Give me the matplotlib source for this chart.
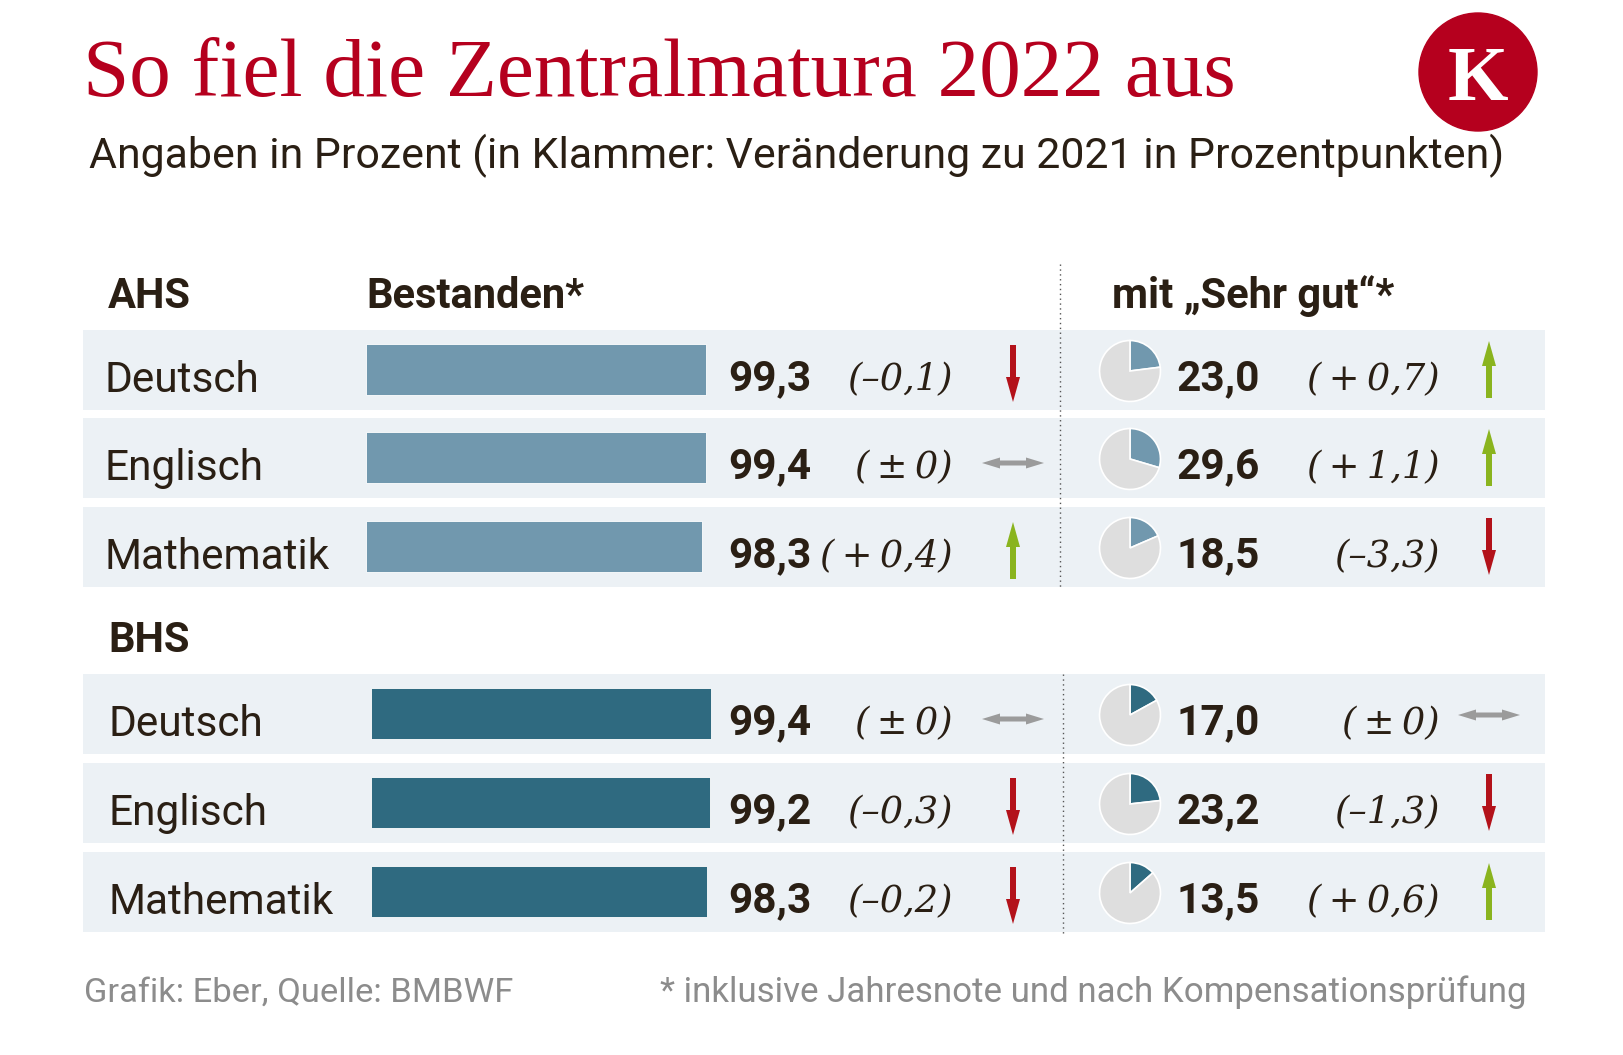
import matplotlib
matplotlib.use("Agg")
import matplotlib.pyplot as plt
from matplotlib.patches import Rectangle, Circle, FancyArrow

W, H = 1623, 1055

subjects = ["Deutsch", "Englisch", "Mathematik"]
ahs_bestanden = [99.3, 99.4, 98.3]
ahs_bestanden_diff = [-0.1, 0.0, 0.4]
ahs_sehrgut = [23.0, 29.6, 18.5]
ahs_sehrgut_diff = [0.7, 1.1, -3.3]
bhs_bestanden = [99.4, 99.2, 98.3]
bhs_bestanden_diff = [0.0, -0.3, -0.2]
bhs_sehrgut = [17.0, 23.2, 13.5]
bhs_sehrgut_diff = [0.0, -1.3, 0.6]

DARK = "#2a1f14"
RED = "#b5001e"
BAND = "#ecf1f5"
ARROW_RED = "#b3121a"
ARROW_GREEN = "#8ab41e"
ARROW_GREY = "#9b9b9b"
PIE_GREY = "#dedede"

SANS = "Roboto"
SERIF = "Liberation Serif"
ITAL = "DejaVu Serif"
TS = "\u2009"  # thin space


def fmt(v):
    return f"{v:.1f}".replace(".", ",")


def fmt_diff(d):
    if d == 0:
        return f"({TS}±{TS}0)"
    if d > 0:
        return f"({TS}+{TS}{fmt(d)})"
    return f"(–{fmt(abs(d))})"


fig = plt.figure(figsize=(W / 100, H / 100), dpi=100)
ax = fig.add_axes([0, 0, 1, 1])
ax.set_xlim(0, W)
ax.set_ylim(H, 0)
ax.axis("off")


def fit(t, width):
    r = fig.canvas.get_renderer()
    bb = t.get_window_extent(r)
    t.set_fontsize(t.get_fontsize() * width / bb.width)


# title / subtitle / logo
t = ax.text(83, 96, "So fiel die Zentralmatura 2022 aus", color=RED, family=SERIF,
            fontsize=53, va="baseline", ha="left")
fit(t, 1154)
t = ax.text(89, 168, "Angaben in Prozent (in Klammer: Veränderung zu 2021 in Prozentpunkten)",
            color=DARK, family=SANS, fontsize=30, va="baseline", ha="left")
fit(t, 1412)
ax.add_patch(Circle((1478, 72), 59, color=RED, zorder=2))
ax.text(1478, 73, "K", color="white", family=SERIF, weight="bold", fontsize=56, ha="center",
        va="center_baseline", zorder=3)

# headers
HS = 30
ax.text(108, 308, "AHS", color=DARK, family=SANS, weight="bold", fontsize=HS, va="baseline")
ax.text(366, 308, "Bestanden*", color=DARK, family=SANS, weight="bold", fontsize=HS,
        va="baseline")
ax.text(1112, 308, "mit „Sehr gut“*", color=DARK, family=SANS, weight="bold", fontsize=HS,
        va="baseline")
ax.text(108, 652, "BHS", color=DARK, family=SANS, weight="bold", fontsize=HS, va="baseline")


def arrow(x, y_top, d):
    if d > 0:
        ax.add_patch(FancyArrow(x, y_top + 57, 0, -57, width=6, head_width=14, head_length=25,
                                length_includes_head=True, color=ARROW_GREEN, lw=0, zorder=3))
    elif d < 0:
        ax.add_patch(FancyArrow(x, y_top, 0, 57, width=6, head_width=14, head_length=25,
                                length_includes_head=True, color=ARROW_RED, lw=0, zorder=3))
    else:
        yc = y_top + 30
        for dx in (-31, 31):
            ax.add_patch(FancyArrow(x, yc, dx, 0, width=5, head_width=11, head_length=18,
                                    length_includes_head=True, color=ARROW_GREY, lw=0, zorder=3))


groups = [
    dict(tops=[330, 418, 507], bar_left=366, label_x=104, color="#7198ae",
         best=ahs_bestanden, best_d=ahs_bestanden_diff, sg=ahs_sehrgut, sg_d=ahs_sehrgut_diff,
         sep_x=1060, sep=(264, 588)),
    dict(tops=[674, 763, 852], bar_left=371, label_x=109, color="#2f6a80",
         best=bhs_bestanden, best_d=bhs_bestanden_diff, sg=bhs_sehrgut, sg_d=bhs_sehrgut_diff,
         sep_x=1063, sep=(674, 935)),
]

px_per_pct = 3.42
for g in groups:
    tops = g["tops"]
    for i, top in enumerate(tops):
        ax.add_patch(Rectangle((83, top), 1545 - 83, 80, color=BAND, lw=0, zorder=0))
        ax.text(g["label_x"], top + 62, subjects[i], color=DARK, family=SANS, fontsize=30.5,
                va="baseline")
        ax.text(728, top + 60, fmt(g["best"][i]), color=DARK, family=SANS, weight="bold",
                fontsize=30.5, va="baseline")
        ax.text(953, top + 60, fmt_diff(g["best_d"][i]), color=DARK, family=ITAL,
                style="italic", fontsize=26.5, va="baseline", ha="right")
        arrow(1013, top + 15, g["best_d"][i])
        ax.text(1260, top + 60, fmt(g["sg"][i]), color=DARK, family=SANS, weight="bold",
                fontsize=30.5, va="baseline", ha="right")
        ax.text(1440, top + 60, fmt_diff(g["sg_d"][i]), color=DARK, family=ITAL,
                style="italic", fontsize=26.5, va="baseline", ha="right")
        arrow(1489, top + 11, g["sg_d"][i])

        # pie
        r, cx, cy = 32, 1130, top + 41
        pax = fig.add_axes([(cx - r) / W, 1 - (cy + r) / H, 2 * r / W, 2 * r / H], zorder=3)
        pax.pie([g["sg"][i], 100 - g["sg"][i]], colors=[g["color"], PIE_GREY], startangle=90,
                counterclock=False, radius=1,
                wedgeprops=dict(edgecolor="white", linewidth=1.2))
        pax.set_xlim(-1.05, 1.05)
        pax.set_ylim(-1.05, 1.05)
        pax.set_aspect("equal")
        pax.axis("off")

    ax.plot([g["sep_x"], g["sep_x"]], list(g["sep"]), color="#555555", lw=1,
            ls=(0, (1, 2.5)), zorder=2)

    # bars
    bax = fig.add_axes([g["bar_left"] / W, 0, 100 * px_per_pct / W, 1], zorder=2)
    bax.set_xlim(0, 100)
    bax.set_ylim(H, 0)
    bax.patch.set_alpha(0)
    bax.axis("off")
    bax.barh([top + 39.5 for top in tops], g["best"], height=51, color=g["color"],
             edgecolor="white", linewidth=0.6)

# footer
t = ax.text(84, 1002, "Grafik: Eber, Quelle: BMBWF", color="#8c8c8c", family=SANS,
            fontsize=24, va="baseline")
fit(t, 428)
t = ax.text(1526, 1002, "* inklusive Jahresnote und nach Kompensationsprüfung", color="#8c8c8c",
            family=SANS, fontsize=24, va="baseline", ha="right")
fit(t, 867)

fig.savefig("out.png", dpi=100, facecolor="white")
